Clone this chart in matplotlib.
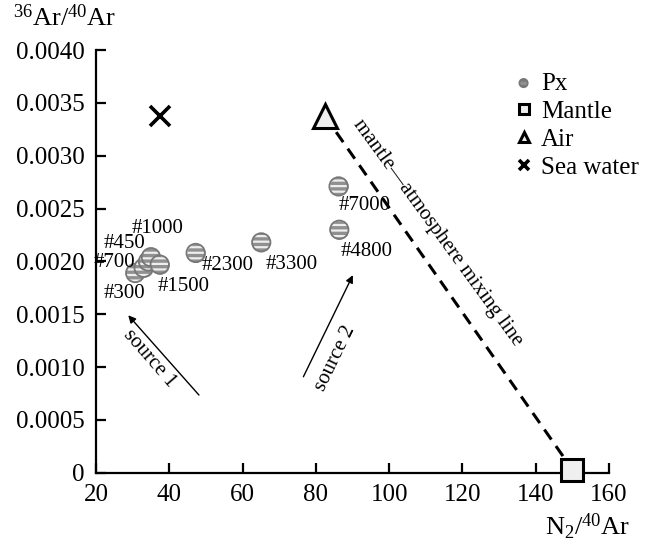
import matplotlib.pyplot as plt
from matplotlib.ticker import FixedLocator, FuncFormatter

# Px samples (N2/40Ar vs 36Ar/40Ar)
px_labels = ["#300", "#700", "#450", "#1000", "#1500", "#2300", "#3300", "#7000", "#4800"]
px_n2 = [30.7, 33.0, 34.2, 35.0, 37.4, 47.2, 65.1, 86.2, 86.4]
px_ar = [0.00189, 0.00194, 0.00200, 0.00204, 0.00197, 0.00208, 0.00218, 0.00271, 0.00230]

# end-members
mantle_n2, mantle_ar = 150.0, 0.00003
air_n2, air_ar = 82.4, 0.00338
sea_n2, sea_ar = 37.6, 0.00338

# label offsets in points
label_offsets = [(-8, -15), (-21, 4), (-17, 13), (5, 21), (17, -16),
                 (23, -9), (22, -16), (19, -14), (20, -16)]

plt.rcParams["font.family"] = "Liberation Serif"
plt.rcParams["mathtext.fontset"] = "custom"
plt.rcParams["mathtext.rm"] = "Liberation Serif"
plt.rcParams["mathtext.it"] = "Liberation Serif:italic"
plt.rcParams["hatch.color"] = "#eeeeee"
plt.rcParams["hatch.linewidth"] = 1.6

fig = plt.figure(figsize=(6.53, 5.45), dpi=100)
ax = fig.add_axes([0.147, 0.1327, 0.7856, 0.7753])

# mixing line between air and mantle
ax.plot([air_n2, mantle_n2], [air_ar, mantle_ar], color="black", lw=2.2,
        dashes=(4, 2.6), zorder=2)

# striped grey circles: fill, white stripes, outline
for i in range(len(px_n2)):
    z = 3 + i * 0.01
    ax.scatter(px_n2[i], px_ar[i], s=175, facecolor="#909090", linewidths=0, zorder=z)
    ax.scatter(px_n2[i], px_ar[i], s=175, facecolor="none", edgecolor="#eeeeee",
               linewidths=0, hatch="---", zorder=z + 0.002)
    ax.scatter(px_n2[i], px_ar[i], s=175, facecolor="none", edgecolor="#777777",
               linewidths=1.3, zorder=z + 0.004)
# legend handle for Px
px_handle = ax.scatter([], [], s=175, facecolor="#909090", edgecolor="#777777",
                       linewidths=1.3, hatch="---", label="Px")

ax.plot(mantle_n2, mantle_ar, marker="s", ms=16, mfc="#efefef", mec="black",
        mew=2.2, ls="none", zorder=4, label="Mantle", clip_on=False)
ax.plot(air_n2, air_ar, marker="^", ms=17, mfc="#efefef", mec="black",
        mew=2.2, ls="none", zorder=4, label="Air")
ax.plot(sea_n2, sea_ar, marker="x", ms=15, mec="black", mew=2.6,
        ls="none", zorder=4, label="Sea water")

for lab, x, y, off in zip(px_labels, px_n2, px_ar, label_offsets):
    ax.annotate(lab, (x, y), xytext=off, textcoords="offset points",
                ha="center", va="center", fontsize=15, zorder=5)

# source arrows
arrow = dict(arrowstyle="-|>", lw=1.0, color="black", mutation_scale=11,
             shrinkA=0, shrinkB=0)
ax.annotate("", xy=(28.8, 0.00149), xytext=(48.1, 0.000735), arrowprops=arrow)
ax.annotate("", xy=(90.1, 0.00187), xytext=(76.6, 0.000908), arrowprops=arrow)
ax.text(34.6, 0.001085, "source 1", rotation=-49, ha="center", va="center",
        fontsize=15, rotation_mode="anchor")
ax.text(85.2, 0.001085, "source 2", rotation=64, ha="center", va="center",
        fontsize=15, rotation_mode="anchor")
ax.text(113.2, 0.002275, "mantle\u2014atmosphere mixing line", rotation=-54,
        ha="center", va="center", fontsize=15, rotation_mode="anchor")

ax.set_xlim(20, 160)
ax.set_ylim(0, 0.004)
ax.xaxis.set_major_locator(FixedLocator(range(20, 161, 20)))
ax.yaxis.set_major_locator(FixedLocator([i * 0.0005 for i in range(9)]))
ax.yaxis.set_major_formatter(FuncFormatter(lambda v, p: "0" if v == 0 else f"{v:.4f}"))

for side in ("top", "right"):
    ax.spines[side].set_visible(False)
for side in ("left", "bottom"):
    ax.spines[side].set_linewidth(1.6)
ax.tick_params(direction="in", length=7, width=1.6, labelsize=18, pad=8)

fig.text(0.02, 0.968, r"$^{36}$Ar/$^{40}$Ar", fontsize=19, ha="left", va="center")
fig.text(0.965, 0.033, r"N$_2$/$^{40}$Ar", fontsize=19, ha="right", va="center")

ax.legend(loc="upper left", bbox_to_anchor=(0.775, 0.886), bbox_transform=fig.transFigure,
          frameon=False, fontsize=18, markerscale=0.45, handlelength=0.6,
          handletextpad=0.4, labelspacing=0.22, borderaxespad=0)

fig.savefig("out.png", dpi=100)
